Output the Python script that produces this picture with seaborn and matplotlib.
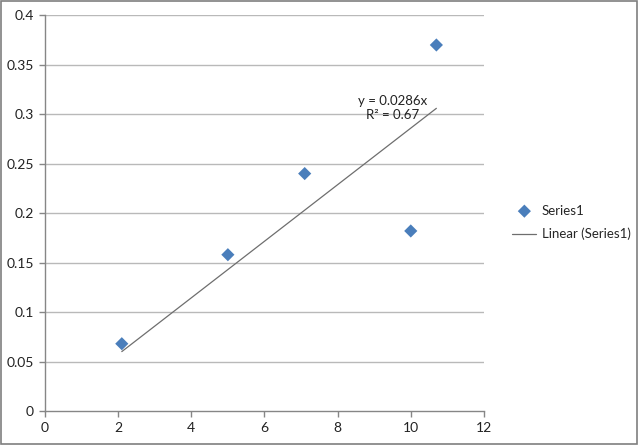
import matplotlib
matplotlib.use("Agg")
import matplotlib.pyplot as plt
import seaborn as sns
import numpy as np
import pandas as pd

# data
x_vals = [2.1, 5.0, 7.1, 10.0, 10.7]
y_vals = [0.068, 0.158, 0.240, 0.182, 0.370]
x_ticks = [0, 2, 4, 6, 8, 10, 12]
y_ticks = [0, 0.05, 0.1, 0.15, 0.2, 0.25, 0.3, 0.35, 0.4]
y_tick_labels = ["0", "0.05", "0.1", "0.15", "0.2", "0.25", "0.3", "0.35", "0.4"]

sns.set_style("white")
plt.rcParams['font.family'] = ['Lato', 'DejaVu Sans']

df = pd.DataFrame({"x": x_vals, "y": y_vals})

# linear trend forced through the origin
xs = np.array(x_vals)
ys = np.array(y_vals)
slope = (xs * ys).sum() / (xs ** 2).sum()
pred = slope * xs
r2 = 1 - ((ys - pred) ** 2).sum() / ((ys - ys.mean()) ** 2).sum()
trend = pd.DataFrame({"x": [xs.min(), xs.max()], "y": [slope * xs.min(), slope * xs.max()]})

fig = plt.figure(figsize=(6.38, 4.45), dpi=100)
ax = fig.add_axes([0.0705, 0.0764, 0.688, 0.8892])

axis_grey = "#868686"
grid_grey = "#b9b9b9"

for t in y_ticks[1:]:
    ax.axhline(t, color=grid_grey, lw=1.0, zorder=0)

sns.scatterplot(data=df, x="x", y="y", marker="D", s=45, color="#4a7ebb",
                edgecolor="none", ax=ax, label="Series1", zorder=3)
sns.lineplot(data=trend, x="x", y="y", color="#6e6e6e", lw=0.9, ax=ax,
             label="Linear (Series1)", zorder=2)

ax.text(9.5, 0.306, "y = 0.%04dx\nR² = %.2f" % (round(slope * 10000), r2),
        ha="center", va="center", fontsize=9.5, linespacing=1.2, color="#222222")

ax.set_xlim(0, 12)
ax.set_ylim(0, 0.4)
ax.set_xticks(x_ticks)
ax.set_yticks(y_ticks)
ax.set_yticklabels(y_tick_labels)
ax.set_xlabel("")
ax.set_ylabel("")
ax.tick_params(axis="both", direction="out", length=4, width=1, color=axis_grey,
               labelsize=10, labelcolor="#222222", pad=4)
ax.tick_params(axis="both", which="both", bottom=True, left=True)
for side in ["top", "right"]:
    ax.spines[side].set_visible(False)
for side in ["left", "bottom"]:
    ax.spines[side].set_color(axis_grey)
    ax.spines[side].set_linewidth(1)

ax.legend(loc="center left", bbox_to_anchor=(0.795, 0.50), bbox_transform=fig.transFigure,
          frameon=False, fontsize=9.5, handlelength=1.8, labelspacing=0.85,
          handletextpad=0.4, borderaxespad=0)

# outer chart border
fig.patches.append(plt.Rectangle((0.002, 0.003), 0.996, 0.994, transform=fig.transFigure,
                                 fill=False, edgecolor="#7f7f7f", lw=1.2))

fig.savefig("out.png", dpi=100)
